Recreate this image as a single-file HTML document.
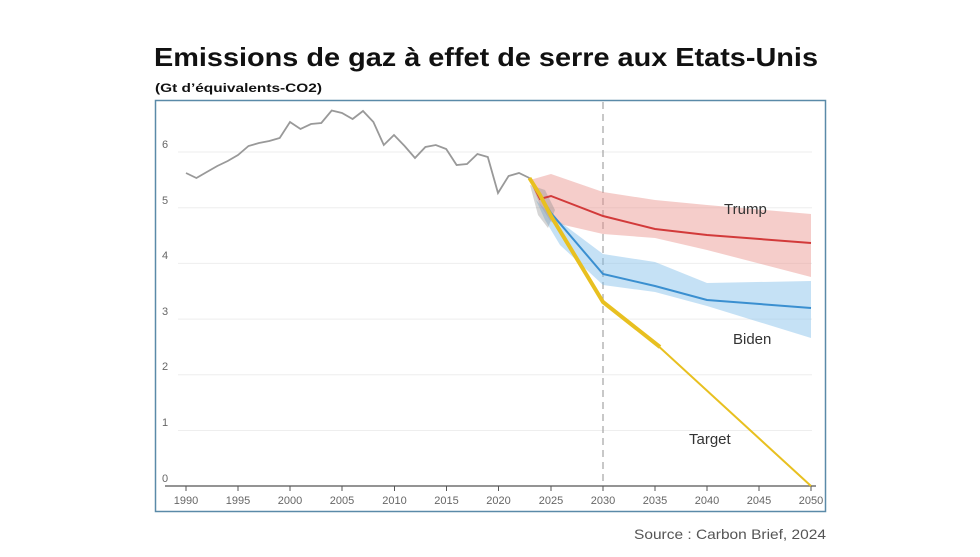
<!DOCTYPE html>
<html><head><meta charset="utf-8"><style>
body{margin:0;width:980px;height:552px;background:#fff;overflow:hidden;font-family:"Liberation Sans",sans-serif}
</style></head><body>
<svg width="980" height="552" xmlns="http://www.w3.org/2000/svg" font-family="Liberation Sans, sans-serif">
<text x="154" y="66" font-size="26" font-weight="bold" fill="#111" textLength="664" lengthAdjust="spacingAndGlyphs">Emissions de gaz à effet de serre aux Etats-Unis</text>
<text x="155" y="92" font-size="12" font-weight="bold" fill="#111" textLength="167" lengthAdjust="spacingAndGlyphs">(Gt d’équivalents-CO2)</text>
<rect x="155.5" y="100.5" width="670" height="411" fill="none" stroke="#5a8aa8" stroke-width="1.5"/>
<g stroke="#eee" stroke-width="1">
<line x1="178" x2="812" y1="152" y2="152"/><line x1="178" x2="812" y1="207.7" y2="207.7"/>
<line x1="178" x2="812" y1="263.4" y2="263.4"/><line x1="178" x2="812" y1="319.1" y2="319.1"/>
<line x1="178" x2="812" y1="374.8" y2="374.8"/><line x1="178" x2="812" y1="430.5" y2="430.5"/>
</g>
<g font-size="11" fill="#666">
<text x="162" y="148">6</text><text x="162" y="204">5</text><text x="162" y="259">4</text>
<text x="162" y="315">3</text><text x="162" y="370">2</text><text x="162" y="426">1</text><text x="162" y="482">0</text>
</g>
<line x1="165" x2="816" y1="486" y2="486" stroke="#555" stroke-width="1.2"/>
<g stroke="#555" stroke-width="1">
<line x1="186" x2="186" y1="486" y2="491"/><line x1="238" x2="238" y1="486" y2="491"/><line x1="290" x2="290" y1="486" y2="491"/><line x1="342" x2="342" y1="486" y2="491"/><line x1="394.5" x2="394.5" y1="486" y2="491"/><line x1="446.5" x2="446.5" y1="486" y2="491"/><line x1="498.5" x2="498.5" y1="486" y2="491"/><line x1="551" x2="551" y1="486" y2="491"/><line x1="603" x2="603" y1="486" y2="491"/><line x1="655" x2="655" y1="486" y2="491"/><line x1="707" x2="707" y1="486" y2="491"/><line x1="759" x2="759" y1="486" y2="491"/><line x1="811" x2="811" y1="486" y2="491"/>
</g>
<g font-size="11" fill="#666" text-anchor="middle">
<text x="186" y="504">1990</text><text x="238" y="504">1995</text><text x="290" y="504">2000</text><text x="342" y="504">2005</text><text x="394.5" y="504">2010</text><text x="446.5" y="504">2015</text><text x="498.5" y="504">2020</text><text x="551" y="504">2025</text><text x="603" y="504">2030</text><text x="655" y="504">2035</text><text x="707" y="504">2040</text><text x="759" y="504">2045</text><text x="811" y="504">2050</text>
</g>
<line x1="603" x2="603" y1="102" y2="486" stroke="#aaa" stroke-width="1.3" stroke-dasharray="7,5"/>
<polygon points="530,180 551,174 603,192 655,200 707,205 811,214 811,277 707,250 655,238 603,234 551,222 540,205" fill="#e8908a" opacity="0.45"/>
<polygon points="536,200 551,215 603,254 655,262 707,283 811,281 811,338 707,306 655,292 603,285 560,245 545,220" fill="#7fbde8" opacity="0.45"/>
<polygon points="530,185 545,190 555,210 548,228 538,215" fill="#888" opacity="0.35"/>
<polyline fill="none" stroke="#999" stroke-width="1.8" points="186,173 196.4,178 206.8,172 217.3,166 227.7,161 238,155 248.5,146 259,143 269.3,141 279.7,138 290,122 300.5,129 311,124 321.3,123 331.7,110.5 342,113 352.6,119 363,111 373.4,122 383.8,145 394,135 404.6,146 415,158 425.4,147 435.8,145 446.2,149 456.6,165 467,164 477.4,154 487.8,157 498,193 508.6,176 519,173 529.4,178"/>
<polyline fill="none" stroke="#d23a3a" stroke-width="2" points="529.4,178 540,199 551,196 603,216 655,229 707,235 811,243"/>
<polyline fill="none" stroke="#3a8fd0" stroke-width="2" points="529.4,178 540,195 551,213 603,274 655,286 707,300 811,308"/>
<polyline fill="none" stroke="#e8c020" stroke-width="4" points="529.4,178 540,195 551,216 603,302 660,347"/>
<polyline fill="none" stroke="#e8c020" stroke-width="2" points="655,343 811,486"/>
<g font-size="15" fill="#333">
<text x="724" y="214">Trump</text><text x="733" y="344">Biden</text><text x="689" y="444">Target</text>
</g>
<text x="634" y="539" font-size="14" fill="#555" textLength="192" lengthAdjust="spacingAndGlyphs">Source : Carbon Brief, 2024</text>
</svg>
</body></html>
